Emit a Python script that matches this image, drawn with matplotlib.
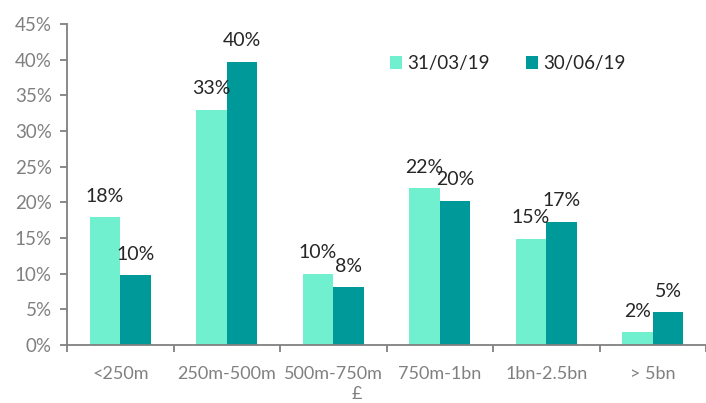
import matplotlib
matplotlib.use('Agg')
import matplotlib.pyplot as plt
import numpy as np
from matplotlib.ticker import FixedLocator, PercentFormatter

plt.rcParams['font.family'] = ['Lato', 'DejaVu Sans']

categories = ['<250m', '250m-500m', '500m-750m', '750m-1bn', '1bn-2.5bn', '> 5bn']
series_names = ['31/03/19', '30/06/19']
values_mar = [17.9, 33.0, 10.0, 22.0, 14.9, 1.8]
values_jun = [9.8, 39.7, 8.1, 20.2, 17.3, 4.6]
labels_mar = ['18%', '33%', '10%', '22%', '15%', '2%']
labels_jun = ['10%', '40%', '8%', '20%', '17%', '5%']

LIGHT = '#71f0cf'
DARK = '#009999'
GREY = '#808080'
TEXT = '#262626'

fig = plt.figure(figsize=(7.06, 4.03), dpi=100)
ax = fig.add_axes([67 / 706, 1 - 345 / 403, 1 - 67 / 706, (345 - 24) / 403])

x = np.arange(len(categories))
w = 0.285
b1 = ax.bar(x - w / 2, values_mar, w, color=LIGHT, label=series_names[0])
b2 = ax.bar(x + w / 2, values_jun, w, color=DARK, label=series_names[1])

for bars, labels in ((b1, labels_mar), (b2, labels_jun)):
    for bar, lab in zip(bars, labels):
        ax.annotate(lab, (bar.get_x() + bar.get_width() / 2, bar.get_height()),
                    xytext=(0, 9), textcoords='offset points',
                    ha='center', va='bottom', fontsize=14, color=TEXT)

ax.set_xlim(-0.5, len(categories) - 0.5)
ax.set_ylim(0, 45)
ax.set_yticks(np.arange(0, 46, 5))
ax.yaxis.set_major_formatter(PercentFormatter(decimals=0))
ax.set_xticks(x)
ax.set_xticklabels(categories)
ax.xaxis.set_minor_locator(FixedLocator(np.arange(-0.5, len(categories), 1)))

ax.tick_params(axis='x', which='major', length=0, pad=15, labelsize=13, labelcolor=GREY)
ax.tick_params(axis='x', which='minor', length=5, color=GREY, width=1.3)
ax.tick_params(axis='y', length=5, color=GREY, width=1.3, pad=6, labelsize=13.5, labelcolor=GREY)

for s in ('top', 'right'):
    ax.spines[s].set_visible(False)
for s in ('left', 'bottom'):
    ax.spines[s].set_color(GREY)
    ax.spines[s].set_linewidth(1.3)

fig.text(357 / 706, 1 - 402 / 403, '£', ha='center', va='bottom', fontsize=13, color=GREY)

ax.legend(loc='upper left', bbox_to_anchor=(373 / 706, 1 - 38 / 403),
          bbox_transform=fig.transFigure, ncol=2, frameon=False,
          fontsize=13.5, handlelength=0.65, handleheight=0.65, handletextpad=0.3,
          columnspacing=1.9, labelcolor=TEXT)

fig.savefig('out.png', dpi=100)
